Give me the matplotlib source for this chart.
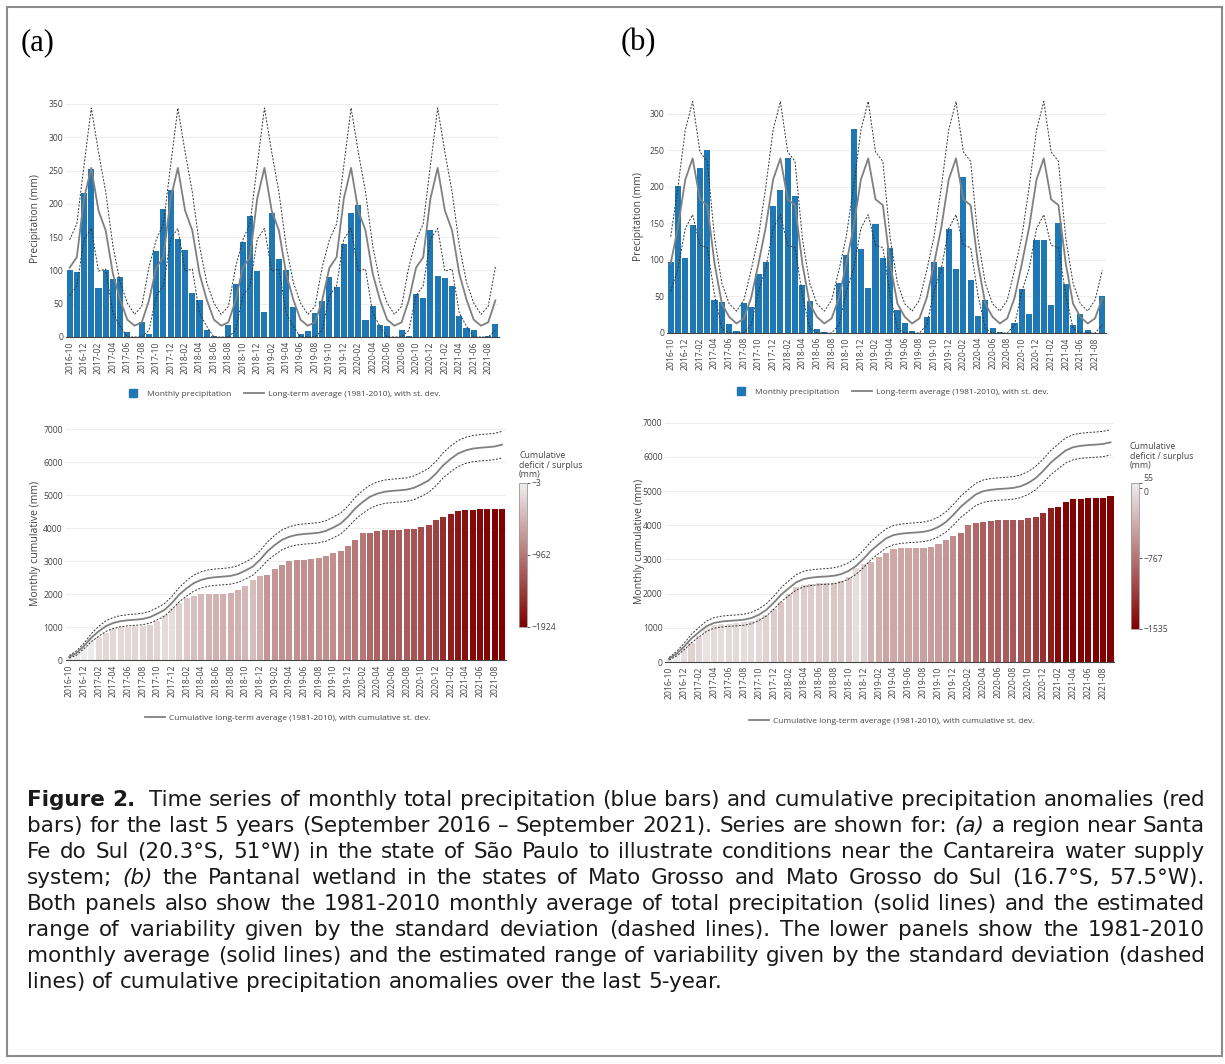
import numpy as np
import pandas as pd
import matplotlib
matplotlib.use("Agg")
import matplotlib.pyplot as plt
from matplotlib.colors import LinearSegmentedColormap, Normalize
from matplotlib.cm import ScalarMappable
from matplotlib.lines import Line2D
from matplotlib.patches import Rectangle

# ---- data ----
months = pd.period_range("2016-10", periods=60, freq="M").strftime("%Y-%m").tolist()

# monthly precipitation (mm), 2016-10 .. 2021-09
precip_a = [100, 98, 217, 252, 73, 101, 87, 90, 7, 0, 22, 5,
            129, 192, 221, 147, 130, 66, 55, 11, 1, 0, 18, 80,
            142, 182, 99, 38, 187, 117, 101, 45, 5, 9, 36, 54,
            90, 75, 140, 186, 198, 26, 47, 18, 16, 0, 10, 2,
            65, 58, 160, 91, 89, 76, 32, 14, 11, 0, 1, 19]
precip_b = [97, 201, 102, 148, 226, 251, 45, 43, 13, 3, 41, 35,
            81, 97, 174, 196, 240, 188, 66, 44, 6, 1, 0, 68,
            107, 279, 115, 61, 149, 103, 117, 31, 14, 3, 0, 22,
            97, 90, 142, 87, 213, 72, 23, 45, 7, 1, 0, 14,
            60, 26, 128, 128, 39, 150, 67, 11, 26, 4, 0, 51]

# monthly cumulative precipitation (mm)
cum_a = [100, 198, 415, 667, 720, 840, 935, 1000, 1020, 1030, 1050, 1055,
         1192, 1374, 1596, 1747, 1879, 1960, 2010, 2020, 2022, 2022, 2040, 2120,
         2263, 2434, 2545, 2586, 2778, 2900, 3000, 3040, 3045, 3055, 3100, 3150,
         3242, 3313, 3465, 3646, 3848, 3869, 3919, 3949, 3960, 3962, 3970, 3972,
         4040, 4100, 4263, 4354, 4434, 4515, 4556, 4566, 4576, 4576, 4578, 4590]
cum_b = [97, 298, 400, 548, 774, 1025, 1070, 1113, 1126, 1129, 1170, 1205,
         1286, 1383, 1557, 1753, 1993, 2181, 2247, 2291, 2297, 2298, 2298, 2366,
         2473, 2752, 2867, 2928, 3077, 3180, 3297, 3328, 3342, 3345, 3345, 3367,
         3464, 3554, 3696, 3783, 3996, 4068, 4091, 4136, 4143, 4144, 4144, 4158,
         4218, 4244, 4372, 4500, 4539, 4689, 4756, 4767, 4793, 4797, 4797, 4848]

# 1981-2010 climatology, Oct .. Sep (mean, mean + sd, mean - sd clipped at 0)
clim_mean_a = [104, 120, 208, 254, 190, 160, 95, 56, 26, 17, 22, 55]
clim_upper_a = [146, 170, 258, 344, 278, 218, 137, 82, 51, 34, 46, 105]
clim_lower_a = [62, 77, 147, 163, 99, 102, 36, 16, 0, 0, 0, 10]
clim_mean_b = [95, 145, 210, 239, 183, 175, 95, 40, 22, 13, 20, 48]
clim_upper_b = [132, 200, 278, 317, 248, 235, 130, 68, 40, 30, 45, 86]
clim_lower_b = [57, 88, 143, 162, 120, 117, 52, 6, 0, 0, 0, 11]

# colour bar ticks (cumulative deficit / surplus, mm)
cbar_ticks_a = [-3, -962, -1924]
cbar_ticks_b = [55, 0, -767, -1535]

caption = [
    [("Figure 2.", "bold"), ("Time series of monthly total precipitation (blue bars) and cumulative precipitation anomalies (red", "normal")],
    [("bars) for the last 5 years (September 2016 \u2013 September 2021). Series are shown for:", "normal"), ("(a)", "italic"), ("a region near Santa", "normal")],
    [("Fe do Sul (20.3\u00b0S, 51\u00b0W) in the state of S\u00e3o Paulo to illustrate conditions near the Cantareira water supply", "normal")],
    [("system;", "normal"), ("(b)", "italic"), ("the Pantanal wetland in the states of Mato Grosso and Mato Grosso do Sul (16.7\u00b0S, 57.5\u00b0W).", "normal")],
    [("Both panels also show the 1981-2010 monthly average of total precipitation (solid lines) and the estimated", "normal")],
    [("range of variability given by the standard deviation (dashed lines). The lower panels show the 1981-2010", "normal")],
    [("monthly average (solid lines) and the estimated range of variability given by the standard deviation (dashed", "normal")],
    [("lines) of cumulative precipitation anomalies over the last 5-year.", "normal")],
]

# ---- styling ----
W, H = 1225, 1064
FONT = ["Open Sans", "DejaVu Sans"]
TXT = "#444444"
BLUE = "#1f77b4"
GREY = "#808080"
DOT = (0, (2, 1.6))
plt.rcParams["font.family"] = FONT

cmap = LinearSegmentedColormap.from_list("deficit", ["#800000", "#eeeeee"])


def fr(left, top, right, bottom):
    """Pixel box (from top-left) to figure fraction rect."""
    return [left / W, 1 - bottom / H, (right - left) / W, (bottom - top) / H]


def style_axis(ax, ymax, yticks):
    ax.set_xlim(-0.5, 59.5)
    ax.set_ylim(0, ymax)
    ax.set_yticks(yticks)
    ax.set_xticks(np.arange(0, 60, 2))
    ax.set_xticklabels(months[::2], rotation=90)
    ax.tick_params(axis="both", labelsize=6.2, colors=TXT, length=0)
    ax.tick_params(axis="x", pad=3)
    ax.tick_params(axis="y", pad=2)
    ax.yaxis.grid(True, color="#eeeeee", lw=0.8)
    ax.set_axisbelow(True)
    for s in ("top", "right", "left"):
        ax.spines[s].set_visible(False)
    ax.spines["bottom"].set_color("#444444")
    ax.spines["bottom"].set_linewidth(0.8)


def plot_monthly(rect, precip, mean, upper, lower, ymax, ylab_x, legend_xy):
    ax = fig.add_axes(fr(*rect))
    x = np.arange(len(precip))
    m = x % 12
    ax.bar(x, precip, width=0.84, color=BLUE, zorder=2)
    ax.plot(x, np.array(mean)[m], color=GREY, lw=1.3, zorder=3)
    ax.plot(x, np.array(upper)[m], color="#333333", lw=0.7, ls=DOT, zorder=3)
    ax.plot(x, np.array(lower)[m], color="#333333", lw=0.7, ls=DOT, zorder=3)
    style_axis(ax, ymax, np.arange(0, ymax, 50))
    ax.set_ylabel("Precipitation (mm)", fontsize=7.4, color=TXT)
    ax.yaxis.set_label_coords(ylab_x, 0.5)
    handles = [Line2D([], [], marker="s", ls="none", color=BLUE, markersize=5.8),
               Line2D([], [], color=GREY, lw=1.3)]
    fig.legend(handles, ["Monthly precipitation", "Long-term average (1981-2010), with st. dev."],
               loc="center", bbox_to_anchor=(legend_xy[0] / W, 1 - legend_xy[1] / H),
               ncol=2, frameon=False, fontsize=6, labelcolor=TXT,
               handlelength=2.4, handletextpad=0.5, columnspacing=1.45)
    return ax


def plot_cumulative(rect, cum, mean, upper, ticks, ymax, ylab_x, legend_xy, cbar_rect, title_xy):
    ax = fig.add_axes(fr(*rect))
    x = np.arange(len(cum))
    m = x % 12
    mean_m = np.array(mean)[m]
    sd_m = np.array(upper)[m] - mean_m
    cum_mean = np.cumsum(mean_m)
    cum_sd = np.sqrt(np.cumsum(sd_m ** 2))
    deficit = np.array(cum) - cum_mean
    norm = Normalize(vmin=ticks[-1], vmax=ticks[0])
    ax.bar(x, cum, width=0.82, color=cmap(norm(deficit)), zorder=2)
    ax.plot(x, cum_mean, color=GREY, lw=1.3, zorder=3)
    ax.plot(x, cum_mean + cum_sd, color="#333333", lw=0.7, ls=DOT, zorder=3)
    ax.plot(x, cum_mean - cum_sd, color="#333333", lw=0.7, ls=DOT, zorder=3)
    style_axis(ax, ymax, np.arange(0, 7001, 1000))
    ax.set_ylabel("Monthly cumulative (mm)", fontsize=7.6, color=TXT)
    ax.yaxis.set_label_coords(ylab_x, 0.5)
    fig.legend([Line2D([], [], color=GREY, lw=1.3)],
               ["Cumulative long-term average (1981-2010), with cumulative st. dev."],
               loc="center", bbox_to_anchor=(legend_xy[0] / W, 1 - legend_xy[1] / H),
               frameon=False, fontsize=6, labelcolor=TXT, handlelength=2.4, handletextpad=0.5)

    cax = fig.add_axes(fr(*cbar_rect))
    cb = fig.colorbar(ScalarMappable(norm=norm, cmap=cmap), cax=cax)
    cb.set_ticks(ticks)
    cb.set_ticklabels([str(t).replace("-", "\u2212") for t in ticks])
    cb.outline.set_linewidth(0.6)
    cb.outline.set_edgecolor("#999999")
    cax.tick_params(labelsize=6.2, colors=TXT, length=2.5, width=0.6, pad=1)
    # two top ticks sit very close (55 and 0): lift one, drop the other
    labels = cax.get_yticklabels()
    if ticks[0] - ticks[1] < 0.05 * (ticks[0] - ticks[-1]):
        labels[0].set_va("bottom")
        labels[1].set_va("top")
    fig.text(title_xy[0] / W, 1 - title_xy[1] / H, "Cumulative\ndeficit / surplus\n(mm)",
             fontsize=6.3, color=TXT, va="top", ha="left", linespacing=1.1)
    return ax


fig = plt.figure(figsize=(W / 100, H / 100), dpi=100, facecolor="white")

plot_monthly((66, 100, 499, 337), precip_a, clim_mean_a, clim_upper_a, clim_lower_a,
             356, -0.058, (282, 394))
plot_monthly((667, 100, 1106, 333), precip_b, clim_mean_b, clim_upper_b, clim_lower_b,
             319, -0.052, (890, 392))
plot_cumulative((65.6, 427, 505.7, 660.3), cum_a, clim_mean_a, clim_upper_a, cbar_ticks_a,
                7070, -0.056, (288, 718), (519, 483, 527, 627), (519, 451))
plot_cumulative((665.3, 420, 1114.3, 662), cum_b, clim_mean_b, clim_upper_b, cbar_ticks_b,
                7078, -0.045, (892, 721), (1131, 483, 1139, 629), (1130, 442))

# panel letters
fig.text(21 / W, 1 - 43 / H, "(a)", family="Liberation Serif", fontsize=22, va="center")
fig.text(621 / W, 1 - 43 / H, "(b)", family="Liberation Serif", fontsize=22, va="center")

# outer frame
fig.patches.append(Rectangle((7 / W, 1 - 1056 / H), 1215 / W, 1049 / H, transform=fig.transFigure,
                             fill=False, edgecolor="#8c8c8c", lw=1.5))

# justified caption, placed word by word
fig.canvas.draw()
renderer = fig.canvas.get_renderer()
styles = {"normal": {}, "bold": {"fontweight": "bold"}, "italic": {"fontstyle": "italic"}}
x_left, x_right = 27, 1205


def caption_words(segments):
    words, weights = [], []
    for text, kind in segments:
        for w in text.split():
            if words:
                weights.append(2 if words[-1][1] == "bold" and kind != "bold" else 1)
            words.append((w, kind))
    return words, weights


def measure(text, size, kind="normal"):
    t = fig.text(0, 0, text, family=["DejaVu Sans"], fontsize=size, **styles[kind])
    w = t.get_window_extent(renderer).width
    t.remove()
    return w


# pick the font size so the widest justified line fits with normal spacing
base = 10.0
sp_base = measure("a a", base) - measure("aa", base)
natural = []
for segments in caption[:-1]:
    words, weights = caption_words(segments)
    natural.append(sum(measure(w, base, k) for w, k in words) + sp_base * sum(weights))
cap_size = base * (x_right - x_left - 2) / max(natural)
space_w = sp_base * cap_size / base

for i, segments in enumerate(caption):
    words, weights = caption_words(segments)
    y = 1 - (806 + 26 * i) / H
    artists = []
    for w, kind in words:
        t = fig.text(0, y, w, va="baseline", ha="left", family=["DejaVu Sans"],
                     fontsize=cap_size, color="#1a1a1a", **styles[kind])
        artists.append((t, t.get_window_extent(renderer).width))
    total = sum(a[1] for a in artists)
    if i < len(caption) - 1:
        gap = (x_right - x_left - total) / max(sum(weights), 1)
    else:
        gap = space_w
    x = x_left
    for j, (t, wdt) in enumerate(artists):
        t.set_x(x / W)
        x += wdt
        if j < len(weights):
            x += gap * weights[j]

fig.savefig("out.png", dpi=100, facecolor="white")
